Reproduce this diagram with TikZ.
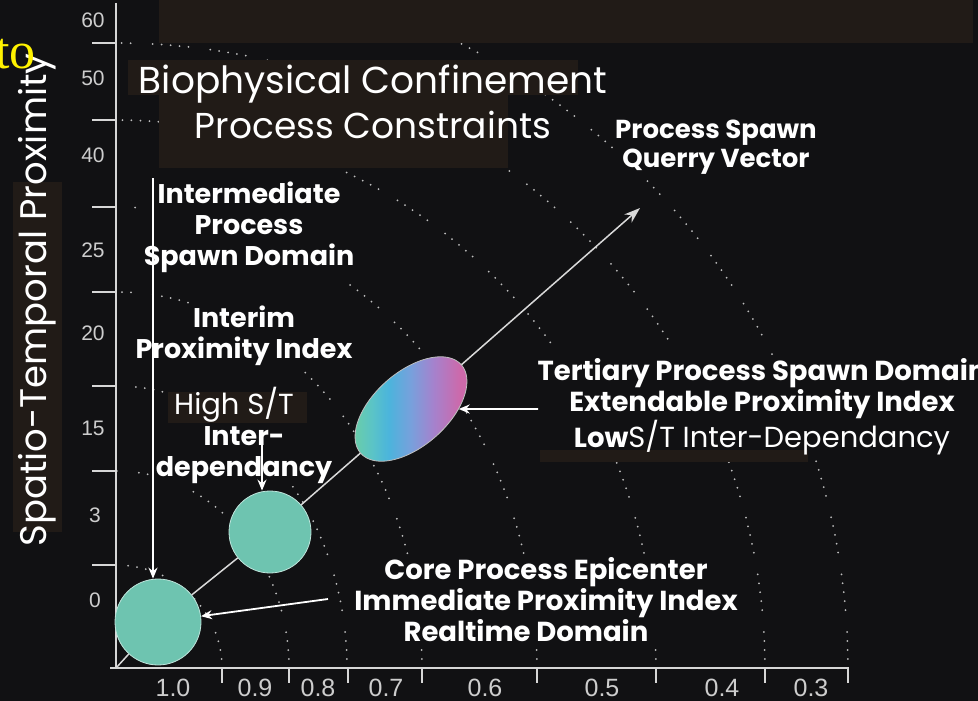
\documentclass[tikz,border=0pt]{standalone}
\usepackage{fontspec}
\setmainfont{Poppins}
\newfontfamily\numfont{Liberation Sans}
\newfontfamily\yellowserif{Liberation Serif}
\usetikzlibrary{arrows.meta,shapes.geometric}
\definecolor{bg}{RGB}{17,17,19}
\definecolor{brownbox}{RGB}{33,27,23}
\definecolor{epiteal}{RGB}{110,196,176}
\definecolor{axisgray}{RGB}{215,215,215}
\definecolor{ticktext}{RGB}{205,205,205}
\definecolor{dotgray}{RGB}{190,190,190}
\definecolor{shA}{RGB}{105,205,170}
\definecolor{shB}{RGB}{90,195,200}
\definecolor{shC}{RGB}{75,180,220}
\definecolor{shD}{RGB}{120,160,220}
\definecolor{shE}{RGB}{165,130,205}
\definecolor{shF}{RGB}{205,105,170}
\pgfdeclarehorizontalshading{ellshade}{100bp}{color(0bp)=(shA); color(25bp)=(shA); color(33bp)=(shB); color(40bp)=(shC); color(50bp)=(shD); color(60bp)=(shE); color(72bp)=(shF); color(100bp)=(shF)}
\begin{document}
\begin{tikzpicture}[x=1pt,y=-1pt,
  dotarc/.style={dotgray, line width=2pt, line cap=round, dash pattern=on 0pt off 9pt on 0pt off 9pt on 0pt off 9pt on 0pt off 9pt on 0pt off 22pt},
  axisline/.style={axisgray, line width=2pt},
  ylabnum/.style={text=ticktext, font=\numfont\fontsize{21}{21}\selectfont, inner sep=0},
  xlabnum/.style={text=ticktext, font=\numfont\fontsize{25}{25}\selectfont, inner sep=0},
  boldlab/.style={text=white, font=\bfseries\fontsize{27}{31}\selectfont, align=center, inner sep=2pt},
  reglab/.style={text=white, font=\fontsize{36}{40}\selectfont, inner sep=0},
  conn/.style={white, line width=1.8pt, -{Stealth[length=11pt,width=9pt]}},
  diag/.style={white!85!black, line width=1.5pt},
  blob/.style={circle, fill=epiteal, draw=white!55!epiteal, line width=0.8pt, inner sep=0}]
\useasboundingbox (0,0) rectangle (978,701);
\fill[bg] (0,0) rectangle (978,701);
% dotted iso-proximity arcs
\foreach \rx/\ry in {106/103,173/197,231/282,306/376,421/461,540/548,649/625,732/708}
  \draw[dotarc] plot[domain=0:90, samples=90] ({116+\rx*cos(\x)},{668-\ry*sin(\x)});
% dark boxes
\fill[brownbox] (159,0) rectangle (973,43);
\fill[brownbox] (128,60) rectangle (578,95);
\fill[brownbox] (159,93) rectangle (508,168);
\fill[brownbox] (13,182) rectangle (62,532);
\fill[brownbox] (168,392) rectangle (307,423);
\fill[bg] (538,356) rectangle (978,449);
\fill[brownbox] (540,450) rectangle (808,462);
% axes
\draw[axisline] (116,3) -- (116,669);
\draw[axisline] (110,668) -- (849,668);
\foreach \y in {43,120,207,292,386,471,565} \draw[axisline] (92,\y) -- (116,\y);
\foreach \x in {222,289,348,422,537,656,765,848} \draw[axisline] (\x,668) -- (\x,683);
% axis numbers
\node[ylabnum] (y60) at (93,20) {60};
\node[ylabnum] (y50) at (93,78) {50};
\node[ylabnum] (y40) at (93,155) {40};
\node[ylabnum] (y25) at (93,250) {25};
\node[ylabnum] (y20) at (93,333) {20};
\node[ylabnum] (y15) at (93,428) {15};
\node[ylabnum] (y3) at (95,515) {3};
\node[ylabnum] (y0) at (95,600) {0};
\node[xlabnum] (x10) at (173,688) {1.0};
\node[xlabnum] (x09) at (255,688) {0.9};
\node[xlabnum] (x08) at (318,688) {0.8};
\node[xlabnum] (x07) at (386,688) {0.7};
\node[xlabnum] (x06) at (485,688) {0.6};
\node[xlabnum] (x05) at (602,688) {0.5};
\node[xlabnum] (x04) at (722,688) {0.4};
\node[xlabnum] (x03) at (811,688) {0.3};
% domains
\node[blob, minimum size=86pt] (c1) at (158,622) {};
\node[blob, minimum size=82pt] (c2) at (270,532) {};
\shade[shading=ellshade, draw=white!75!black, line width=0.8pt]
  plot[domain=0:360, samples=120] ({411+67*cos(\x)*0.751+37*sin(\x)*0.660},{409-67*cos(\x)*0.660+37*sin(\x)*0.751}) -- cycle;
\node[ellipse, rotate=41.3, minimum width=134pt, minimum height=74pt, inner sep=0] (ell) at (411,409) {};
% labels
\node[reglab, font=\fontsize{37.5}{40}\selectfont] (bio) at (373,84) {Biophysical Confinement};
\node[reglab] (pcon) at (373,125) {Process Constraints};
\node[boldlab, fill=bg, font=\bfseries\fontsize{26}{29}\selectfont] (spawn) at (716,147) {Process Spawn\\Querry Vector};
\node[boldlab, fill=bg] (inter) at (249,227) {Intermediate\\Process\\Spawn Domain};
\node[boldlab, fill=bg] (interim) at (244,336) {Interim\\Proximity Index};
\node[reglab, font=\fontsize{29}{31}\selectfont] (high) at (234,405) {High S/T};
\node[boldlab, fill=bg] (dep) at (244,455) {Inter-\\dependancy};
\node[boldlab, font=\bfseries\fontsize{27.5}{31}\selectfont] (tert) at (762,407) {Tertiary Process Spawn Domain\\Extendable Proximity Index\\Low{\mdseries\fontsize{29}{31}\selectfont S/T Inter-Dependancy}};
\node[boldlab, fill=bg, font=\bfseries\fontsize{27.5}{31}\selectfont] (core) at (546,600) {Core Process Epicenter\\Immediate Proximity Index\\Realtime Domain\hspace*{40pt}};
\node[reglab, rotate=90, font=\fontsize{37}{40}\selectfont] (ylab) at (37,300) {Spatio-Temporal Proximity};
\node[anchor=base west, inner sep=0, text=yellow, font=\yellowserif\fontsize{52}{54}\selectfont] (to) at (-5,69) {to};
% connectors
\coordinate (orig) at (116,668);
\coordinate (vtip) at (640,208);
\coordinate (vtop) at (153,178);
\coordinate (stop) at (262,432);
\coordinate (cstart) at (328,599);
\coordinate (tstart) at (538,409);
\draw[diag] (orig) -- (c1);
\draw[diag] (c1) -- (c2);
\draw[diag] (c2) -- (ell);
\draw[diag, -{Stealth[length=16pt,width=11pt]}] (ell) -- (vtip);
\draw[conn] (vtop) -- (vtop |- c1.north);
\draw[conn] (stop) -- (stop |- c2.north);
\draw[conn] (cstart) -- (c1);
\draw[conn] (tstart) -- (ell);
\end{tikzpicture}
\end{document}
